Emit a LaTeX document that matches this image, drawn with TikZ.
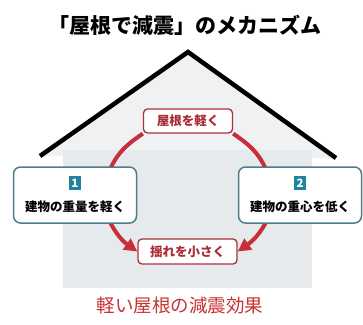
\documentclass[tikz,border=0pt]{standalone}
\usepackage{fontspec}
\setmainfont{Noto Sans CJK JP}
\usetikzlibrary{positioning, arrows.meta, backgrounds}

\definecolor{arcred}{RGB}{200,45,58}
\definecolor{boxred}{RGB}{170,48,60}
\definecolor{txtred}{RGB}{170,45,52}
\definecolor{titlered}{RGB}{200,50,50}
\definecolor{boxteal}{RGB}{78,124,136}
\definecolor{numteal}{RGB}{32,132,160}
\definecolor{roofgray}{RGB}{240,241,242}
\definecolor{wallgray}{RGB}{231,234,236}

\begin{document}
\begin{tikzpicture}[x=1pt, y=1pt,
    redbox/.style={draw=boxred, line width=1.3pt, rounded corners=4pt, fill=white,
        text=txtred, font=\bfseries\fontsize{12.5}{12.5}\selectfont,
        minimum width=89pt, minimum height=24pt, inner sep=0pt},
    bluebox/.style={draw=boxteal, line width=1.5pt, rounded corners=7pt, fill=white,
        minimum width=123pt, minimum height=56pt},
    numbox/.style={fill=numteal, text=white, font=\bfseries\fontsize{11.5}{11.5}\selectfont,
        minimum width=12pt, minimum height=14pt, inner sep=0pt},
    boxtext/.style={font=\bfseries\fontsize{12.5}{12.5}\selectfont, inner sep=0pt},
    cyclearc/.style={draw=arcred, line width=4pt},
    ]
    \useasboundingbox (0,0) rectangle (363,-324);

    \node[font=\bfseries\fontsize{21}{21}\selectfont] (title) at (185,-25) {「屋根で減震」のメカニズム};

    \node[redbox] (roof) at (188,-121) {屋根を軽く};
    \node[bluebox] (b1) at (75,-195) {};
    \node[numbox] (n1) at (75,-183) {1};
    \node[boxtext] (t1) at (75,-207) {建物の重量を軽く};
    \node[bluebox] (b2) at (300,-195) {};
    \node[numbox] (n2) at (300,-183) {2};
    \node[boxtext] (t2) at (300,-207) {建物の重心を低く};
    \node[redbox, minimum width=99pt, minimum height=25pt] (shake) at (187.5,-251.5) {揺れを小さく};

    \node[text=titlered, font=\fontsize{18.5}{18.5}\selectfont] (effect) at (180,-305) {軽い屋根の減震効果};

    \coordinate (l1) at (109,-172);
    \coordinate (r1) at (267,-172);
    \coordinate (l2) at (108,-218);
    \coordinate (r2) at (268,-218);

    \begin{scope}[on background layer]
        % house
        \fill[roofgray] (40,-156) -- (188,-52) -- (336,-158) -- cycle;
        \fill[wallgray] (63,-150) rectangle (312,-288);
        \draw[line width=4.5pt] (40,-156) -- (188,-52) -- (336,-158);

        \path (roof.south west) edge[cyclearc, out=214, in=68] (l1);
        \path (roof.south east) edge[cyclearc, out=-34, in=112] (r1);
        \path (l2) edge[cyclearc, -{Triangle[length=13pt, width=13pt]}, out=-65, in=145] (shake.west);
        \path (r2) edge[cyclearc, -{Triangle[length=13pt, width=13pt]}, out=-115, in=35] (shake.east);
    \end{scope}
\end{tikzpicture}
\end{document}
